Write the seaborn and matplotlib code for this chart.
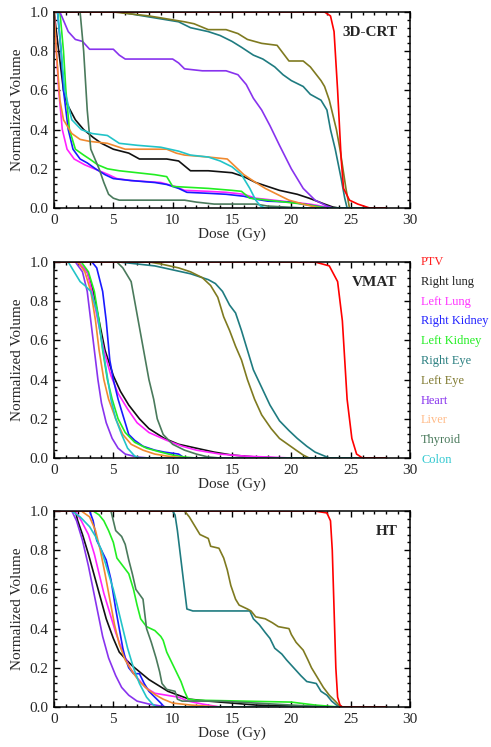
import matplotlib
matplotlib.use("Agg")
import matplotlib.pyplot as plt
import numpy as np
import pandas as pd
import seaborn as sns
from matplotlib.ticker import MultipleLocator

structures = ["PTV", "Right lung", "Left Lung", "Right Kidney", "Left Kidney",
              "Right Eye", "Left Eye", "Heart", "Liver", "Thyroid", "Colon"]
colors = ["#ff0000", "#111111", "#ff22ff", "#1a1aff", "#22ee22",
          "#1f7b80", "#7f7a20", "#8833ee", "#f08a30", "#4a7a5c", "#22c4c8"]
legend_colors = ["#ff2020", "#222222", "#ff33ff", "#2222ff", "#22ee22",
                 "#2a7f80", "#807a30", "#8833ee", "#ffbb88", "#4a7a5c", "#30c8d0"]
panel_names = ["3D-CRT", "VMAT", "HT"]

# DVH curves: structure -> (dose Gy, normalized volume)
crt = {
    "PTV": ([0, 22.8, 23.3, 23.6, 23.9, 24.2, 24.4, 24.9, 25.6, 26.6, 28],
            [1, 1, 0.98, 0.9, 0.6, 0.25, 0.1, 0.04, 0.02, 0, 0]),
    "Right lung": ([0, 0.4, 0.8, 1.1, 1.8, 2.5, 3.3, 4, 5, 6.3, 7.2, 9.5, 10.5, 11.1, 11.5,
                    13, 15, 16, 17, 18, 19, 20.5, 21.5, 22.8, 23.5, 24, 28],
                   [1, 0.8, 0.6, 0.53, 0.45, 0.4, 0.36, 0.33, 0.3, 0.28, 0.25, 0.25, 0.24, 0.21, 0.19,
                    0.19, 0.18, 0.16, 0.13, 0.11, 0.09, 0.07, 0.05, 0.02, 0.005, 0, 0]),
    "Left Lung": ([0, 0.2, 0.4, 0.7, 1.1, 1.7, 2.6, 3.8, 4.6, 5.3, 6.5, 9, 10.2, 11, 13,
                   14.5, 16, 17, 18.5, 20, 21.5, 23, 23.5, 28],
                  [1, 0.8, 0.6, 0.4, 0.3, 0.25, 0.22, 0.19, 0.17, 0.15, 0.14, 0.13, 0.11, 0.09, 0.085,
                   0.08, 0.07, 0.05, 0.04, 0.03, 0.02, 0.005, 0, 0]),
    "Right Kidney": ([0, 0.3, 0.6, 0.8, 1.2, 1.6, 2.2, 2.8, 3.5, 4.3, 5, 6.5, 8.5, 9.5, 10.5,
                      11.2, 13, 14.5, 16, 17, 18, 20, 21, 22, 23, 28],
                     [1, 1, 0.8, 0.6, 0.4, 0.3, 0.25, 0.23, 0.2, 0.17, 0.15, 0.14, 0.13, 0.12, 0.1,
                      0.08, 0.075, 0.07, 0.06, 0.045, 0.035, 0.03, 0.02, 0.01, 0, 0]),
    "Left Kidney": ([0, 0.5, 0.8, 1.0, 1.3, 1.8, 2.5, 3, 3.7, 4.5, 5.5, 7, 8.5, 9.5, 10,
                     11.5, 13, 15, 15.8, 16.5, 18, 19.5, 21, 22, 23, 28],
                    [1, 1, 0.8, 0.6, 0.4, 0.3, 0.27, 0.25, 0.22, 0.2, 0.19, 0.18, 0.17, 0.16, 0.11,
                     0.105, 0.1, 0.09, 0.085, 0.05, 0.04, 0.03, 0.02, 0.01, 0, 0]),
    "Right Eye": ([0, 5.5, 8.5, 10.5, 11.5, 13, 14, 15, 15.8, 16.8, 17.6, 18.6, 19.3, 20, 21,
                   21.6, 22.5, 23, 23.3, 23.7, 24.2, 24.5, 24.7, 28],
                  [1, 1, 0.97, 0.95, 0.92, 0.9, 0.88, 0.85, 0.82, 0.78, 0.76, 0.72, 0.68, 0.65, 0.62,
                   0.58, 0.55, 0.5, 0.4, 0.3, 0.15, 0.05, 0, 0]),
    "Left Eye": ([0, 5, 8, 11, 11.8, 13, 14.5, 15.5, 16.3, 17.5, 18.8, 19.3, 19.8, 21, 21.6,
                  22.5, 22.8, 23.2, 23.8, 24.1, 24.6, 24.9, 28],
                 [1, 1, 0.98, 0.95, 0.94, 0.91, 0.91, 0.89, 0.86, 0.84, 0.83, 0.79, 0.75, 0.75, 0.72,
                  0.65, 0.62, 0.55, 0.4, 0.3, 0.1, 0, 0]),
    "Heart": ([0, 0.5, 1.2, 1.8, 2.4, 3, 5, 5.5, 6, 10, 10.5, 11, 12.5, 14.5, 15.5,
               16.2, 16.8, 17.5, 18.2, 19, 20, 21, 22, 23, 23.5, 28],
              [1, 1, 0.9, 0.86, 0.85, 0.81, 0.81, 0.78, 0.76, 0.76, 0.74, 0.71, 0.7, 0.7, 0.68,
               0.63, 0.56, 0.5, 0.42, 0.32, 0.2, 0.1, 0.04, 0.01, 0, 0]),
    "Liver": ([0, 0.2, 0.5, 0.8, 1.5, 2.2, 3, 4.5, 5.5, 6, 9.5, 10.3, 11, 13, 14.6,
               15.3, 16, 17, 17.8, 18.8, 19.8, 21, 22, 22.5, 28],
              [1, 0.8, 0.55, 0.45, 0.38, 0.35, 0.34, 0.33, 0.31, 0.3, 0.3, 0.28, 0.27, 0.26, 0.25,
               0.21, 0.17, 0.13, 0.1, 0.07, 0.04, 0.02, 0.005, 0, 0]),
    "Thyroid": ([0, 2.2, 2.5, 2.8, 3.1, 3.8, 4.2, 4.6, 5, 5.5, 11, 12, 13.5, 17, 18, 21, 28],
                [1, 1, 0.8, 0.5, 0.3, 0.2, 0.13, 0.07, 0.05, 0.04, 0.04, 0.03, 0.02, 0.02, 0.01, 0, 0]),
    "Colon": ([0, 0.3, 0.6, 0.9, 1.5, 2.3, 3.2, 4.5, 5.5, 7, 9, 10.5, 11.5, 13, 14,
               15, 15.8, 16.5, 17, 17.4, 17.8, 28],
              [1, 1, 0.8, 0.6, 0.45, 0.4, 0.38, 0.37, 0.33, 0.32, 0.31, 0.29, 0.27, 0.26, 0.24,
               0.21, 0.17, 0.1, 0.04, 0.01, 0, 0]),
}

vmat = {
    "PTV": ([0, 22, 23.2, 23.9, 24.3, 24.7, 25.1, 25.5, 26, 28],
            [1, 1, 0.98, 0.9, 0.7, 0.3, 0.1, 0.02, 0, 0]),
    "Right lung": ([0, 2, 2.8, 3.3, 3.8, 4.3, 5, 5.6, 6.3, 7.2, 8, 9.3, 10.5, 12, 13.5, 15, 17, 19, 28],
                   [1, 1, 0.95, 0.85, 0.7, 0.55, 0.42, 0.34, 0.27, 0.2, 0.15, 0.1, 0.07, 0.05, 0.03,
                    0.015, 0.005, 0, 0]),
    "Left Lung": ([0, 2, 2.8, 3.2, 3.7, 4.2, 4.8, 5.4, 6.2, 7, 8, 9.5, 10.8, 12, 14, 16, 20, 28],
                  [1, 1, 0.95, 0.85, 0.7, 0.55, 0.42, 0.33, 0.25, 0.18, 0.13, 0.09, 0.06, 0.04, 0.02,
                   0.01, 0, 0]),
    "Right Kidney": ([0, 3.2, 3.6, 4.1, 4.4, 4.7, 5, 5.4, 5.9, 6.3, 6.8, 7.5, 8.5, 9.3, 10.5, 11, 28],
                     [1, 1, 0.97, 0.85, 0.7, 0.5, 0.4, 0.3, 0.2, 0.12, 0.09, 0.06, 0.04, 0.03, 0.02, 0, 0]),
    "Left Kidney": ([0, 2.3, 2.9, 3.4, 3.8, 4.1, 4.5, 4.9, 5.4, 6, 6.8, 7.8, 9, 10, 11, 12, 28],
                    [1, 1, 0.95, 0.85, 0.7, 0.55, 0.4, 0.3, 0.2, 0.13, 0.08, 0.05, 0.03, 0.015, 0.005, 0, 0]),
    "Right Eye": ([0, 5.5, 7, 8.5, 10, 11.5, 13, 13.6, 14.2, 14.8, 15.3, 15.8, 16.3, 16.8, 17.5,
                   18.2, 19, 19.8, 20.5, 21.3, 22, 22.8, 23.2, 28],
                  [1, 1, 0.99, 0.98, 0.96, 0.94, 0.91, 0.89, 0.85, 0.78, 0.74, 0.65, 0.55, 0.45, 0.36,
                   0.27, 0.19, 0.14, 0.1, 0.06, 0.03, 0.01, 0, 0]),
    "Left Eye": ([0, 8, 9, 10.5, 11.5, 12.5, 13.2, 13.8, 14.3, 14.8, 15.3, 15.8, 16.3, 16.9, 17.5,
                  18.3, 19, 19.7, 20.4, 21, 21.5, 28],
                 [1, 1, 0.99, 0.97, 0.95, 0.92, 0.88, 0.82, 0.72, 0.65, 0.57, 0.5, 0.4, 0.3, 0.22,
                  0.15, 0.1, 0.07, 0.04, 0.015, 0, 0]),
    "Heart": ([0, 1.8, 2.4, 2.8, 3.1, 3.4, 3.7, 4, 4.4, 4.9, 5.4, 6, 7, 8, 28],
              [1, 1, 0.95, 0.85, 0.7, 0.55, 0.4, 0.28, 0.18, 0.1, 0.05, 0.02, 0.005, 0, 0]),
    "Liver": ([0, 2, 2.6, 3.1, 3.5, 3.8, 4.2, 4.6, 5.2, 5.8, 6.5, 7.5, 8.5, 9.5, 11, 28],
              [1, 1, 0.95, 0.85, 0.7, 0.55, 0.4, 0.3, 0.2, 0.12, 0.07, 0.04, 0.02, 0.01, 0, 0]),
    "Thyroid": ([0, 5.3, 5.8, 6.5, 6.8, 7.1, 7.4, 7.7, 8, 8.4, 8.7, 9.2, 10, 11, 12, 13, 14, 28],
                [1, 1, 0.97, 0.9, 0.8, 0.7, 0.6, 0.5, 0.4, 0.3, 0.2, 0.12, 0.07, 0.04, 0.02, 0.005, 0, 0]),
    "Colon": ([0, 1.2, 1.7, 2.2, 2.6, 3.1, 3.6, 4, 4.4, 4.8, 5.2, 5.7, 6.2, 6.8, 7.2, 28],
              [1, 1, 0.95, 0.9, 0.88, 0.85, 0.75, 0.6, 0.45, 0.3, 0.2, 0.12, 0.05, 0.01, 0, 0]),
}

ht = {
    "PTV": ([0, 22, 23, 23.3, 23.45, 23.6, 23.75, 23.9, 24.1, 24.3, 28],
            [1, 1, 0.99, 0.95, 0.8, 0.5, 0.2, 0.05, 0.01, 0, 0]),
    "Right lung": ([0, 1.8, 2, 2.4, 2.9, 3.4, 3.9, 4.4, 5, 5.5, 6.1, 6.6, 7.2, 8, 8.8,
                    9.6, 10.5, 11.4, 13, 15, 17, 20, 23, 28],
                   [1, 1, 0.95, 0.88, 0.78, 0.67, 0.56, 0.45, 0.35, 0.28, 0.24, 0.21, 0.18, 0.14, 0.11,
                    0.08, 0.06, 0.04, 0.03, 0.02, 0.01, 0.005, 0, 0]),
    "Left Lung": ([0, 1.8, 2.3, 2.9, 3.4, 3.8, 4.2, 4.7, 5.2, 5.8, 6.4, 7, 7.7, 8.5, 9.5,
                   10.5, 11.3, 12.5, 13.5, 14, 28],
                  [1, 1, 0.95, 0.88, 0.78, 0.68, 0.58, 0.48, 0.38, 0.28, 0.2, 0.15, 0.1, 0.07, 0.06,
                   0.05, 0.03, 0.015, 0.005, 0, 0]),
    "Right Kidney": ([0, 3, 3.3, 3.6, 4, 4.4, 4.8, 5.2, 5.5, 5.8, 6, 6.3, 6.7, 7.2, 7.6,
                      8, 8.5, 9, 9.3, 28],
                     [1, 1, 0.95, 0.85, 0.8, 0.75, 0.65, 0.5, 0.4, 0.3, 0.25, 0.2, 0.17, 0.17, 0.12,
                      0.08, 0.05, 0.02, 0, 0]),
    "Left Kidney": ([0, 3.3, 3.8, 4.2, 4.6, 5, 5.3, 5.8, 6.3, 6.7, 7, 7.3, 7.8, 8.5, 9,
                     9.2, 9.5, 9.9, 10.3, 10.7, 11, 11.3, 12, 16, 20, 22, 24, 28],
                    [1, 1, 0.98, 0.95, 0.9, 0.84, 0.76, 0.72, 0.68, 0.6, 0.52, 0.45, 0.41, 0.39, 0.36,
                     0.34, 0.28, 0.23, 0.18, 0.13, 0.08, 0.04, 0.035, 0.03, 0.025, 0.01, 0, 0]),
    "Right Eye": ([0, 10, 10.2, 10.4, 10.6, 10.8, 11, 11.2, 11.7, 16.5, 16.8, 17.3, 17.8, 18.2, 18.6,
                   19.2, 19.6, 20.2, 20.8, 21.3, 22.1, 22.5, 23, 23.4, 23.8, 24.1, 28],
                  [1, 1, 0.98, 0.9, 0.8, 0.7, 0.6, 0.5, 0.49, 0.49, 0.45, 0.42, 0.38, 0.35, 0.3,
                   0.27, 0.24, 0.2, 0.16, 0.13, 0.12, 0.08, 0.06, 0.03, 0.01, 0, 0]),
    "Left Eye": ([0, 11, 11.4, 11.9, 12.3, 13, 13.2, 13.9, 14.3, 14.6, 14.9, 15.3, 15.6, 16.3, 16.6,
                  17, 17.8, 18.4, 18.9, 19.8, 20, 20.4, 21, 21.4, 21.7, 22.2, 22.7, 23.2, 23.7,
                  24, 24.3, 28],
                 [1, 1, 0.97, 0.92, 0.88, 0.86, 0.82, 0.81, 0.76, 0.7, 0.62, 0.55, 0.52, 0.5, 0.49,
                  0.46, 0.45, 0.43, 0.41, 0.4, 0.37, 0.33, 0.29, 0.24, 0.2, 0.15, 0.1, 0.06, 0.03,
                  0.01, 0, 0]),
    "Heart": ([0, 1.5, 1.9, 2.4, 2.9, 3.3, 3.7, 4.1, 4.6, 5.2, 5.7, 6.3, 7, 8, 9, 9.5, 28],
              [1, 1, 0.95, 0.85, 0.72, 0.6, 0.48, 0.36, 0.25, 0.16, 0.1, 0.06, 0.03, 0.015, 0.005, 0, 0]),
    "Liver": ([0, 2.3, 3, 3.5, 3.9, 4.3, 4.7, 5.1, 5.5, 6, 6.6, 7.2, 7.9, 8.6, 9.2, 10, 11.5, 14, 28],
              [1, 1, 0.97, 0.9, 0.8, 0.68, 0.55, 0.42, 0.32, 0.24, 0.18, 0.13, 0.09, 0.06, 0.04,
               0.02, 0.01, 0, 0]),
    "Thyroid": ([0, 4.8, 5, 5.2, 5.7, 6, 6.3, 6.6, 6.9, 7.5, 7.6, 7.8, 8.2, 8.6, 8.9,
                 9.1, 9.5, 10.2, 10.4, 10.8, 14, 17, 20, 23, 28],
                [1, 1, 0.95, 0.9, 0.87, 0.83, 0.75, 0.68, 0.6, 0.55, 0.5, 0.4, 0.33, 0.25, 0.18,
                 0.12, 0.09, 0.08, 0.04, 0.03, 0.03, 0.02, 0.01, 0, 0]),
    "Colon": ([0, 1.5, 2.2, 3, 3.5, 4, 4.5, 5, 5.4, 5.8, 6.2, 6.7, 7.2, 7.8, 8.3, 8.6, 28],
              [1, 1, 0.97, 0.92, 0.87, 0.8, 0.7, 0.6, 0.5, 0.4, 0.3, 0.2, 0.12, 0.05, 0.015, 0, 0]),
}

sns.set_theme(style="ticks")
plt.rcParams["font.family"] = ["Liberation Serif", "DejaVu Serif"]

fig = plt.figure(figsize=(4.91, 7.47), dpi=100)
tops = [12, 262, 511]
axes = []
for top in tops:
    axes.append(fig.add_axes([54 / 491, 1 - (top + 196) / 747, 356 / 491, 196 / 747]))

# draw order: PTV last so it sits on top, like the original
draw_order = structures[1:] + structures[:1]

for ax, name, data in zip(axes, panel_names, [crt, vmat, ht]):
    for s in draw_order:
        dose, vol = data[s]
        df = pd.DataFrame({"dose": dose, "vol": vol})
        sns.lineplot(data=df, x="dose", y="vol", ax=ax, color=colors[structures.index(s)],
                     lw=1.2, sort=False, estimator=None)
    ax.set_xlim(0, 30)
    ax.set_ylim(0, 1)
    ax.xaxis.set_major_locator(MultipleLocator(5))
    ax.xaxis.set_minor_locator(MultipleLocator(1))
    ax.yaxis.set_major_locator(MultipleLocator(0.2))
    ax.yaxis.set_minor_locator(MultipleLocator(0.04))
    ax.yaxis.set_major_formatter(matplotlib.ticker.FormatStrFormatter("%.1f"))
    ax.tick_params(which="both", direction="in", top=True, right=True,
                   labelsize=11, color="black", width=1.0, pad=4)
    ax.tick_params(which="major", length=4)
    ax.tick_params(which="minor", length=2.5)
    for sp in ax.spines.values():
        sp.set_linewidth(1.1)
        sp.set_color("black")
    ax.set_xlabel("Dose  (Gy)", fontsize=11, labelpad=1)
    ax.set_ylabel("Normalized Volume", fontsize=11, labelpad=4)
    ax.text(0.965, 0.93, name, transform=ax.transAxes, ha="right", va="top",
            fontsize=11, fontweight="bold")

# colored text legend beside the middle panel
for i, s in enumerate(structures):
    fig.text(421 / 491, 1 - (262 + i * 19.8) / 747, s, color=legend_colors[i],
             fontsize=8.9, ha="left", va="center")

fig.savefig("out.png", dpi=100)
